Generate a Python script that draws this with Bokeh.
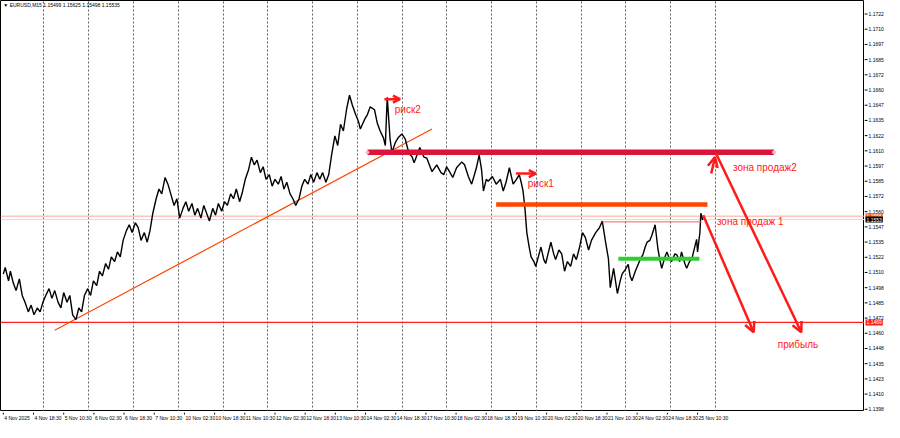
from bokeh.plotting import figure
from bokeh.models import Range1d, FixedTicker, Arrow, OpenHead, Label, ColumnDataSource
from bokeh.layouts import column, row
from bokeh.core.properties import value
from bokeh.embed import file_html
from bokeh.resources import INLINE

# ---- price series (M15 bar index, close price) ----
bars = [0, 4, 11, 15, 21, 27, 34, 40, 46, 53, 59, 65, 72, 78, 84, 90, 97, 103, 109, 116,
        122, 128, 135, 141, 147, 154, 160, 166, 172, 179, 185, 191, 198, 204, 210, 217, 223, 229, 236, 242,
        248, 254, 261, 267, 273, 280, 286, 292, 299, 305, 311, 317, 324, 330, 336, 343, 349, 355, 362, 368,
        374, 381, 387, 393, 400, 406, 412, 419, 425, 431, 437, 444, 450, 456, 463, 469, 475, 482, 488, 494,
        501, 507, 513, 520, 526, 532, 538, 545, 551, 557, 564, 570, 576, 583, 589, 595, 601, 608, 614, 620,
        627, 633, 639, 646, 652, 658, 665, 671, 677, 684, 690, 696, 703, 709, 715, 721, 728, 734, 740, 747,
        753, 757, 766, 772, 778, 787, 793, 799, 806, 810, 814, 820, 824, 831, 837, 845, 852, 860, 867, 871,
        877, 883, 892, 898, 909, 919, 928, 934, 940, 946, 953, 961, 972, 978, 986, 993, 999, 1003, 1009, 1014,
        1018, 1024, 1028, 1037, 1045, 1054, 1060, 1066, 1073, 1081, 1088, 1094, 1098, 1102, 1106, 1110, 1115, 1119, 1125, 1129,
        1136, 1140, 1146, 1150, 1157, 1161, 1167, 1171, 1178, 1184, 1190, 1196, 1203, 1209, 1215, 1222, 1228, 1234, 1241, 1247,
        1256, 1264, 1270, 1277, 1283, 1287, 1294, 1298, 1302, 1308, 1312, 1319, 1325, 1329, 1333, 1340, 1346, 1352, 1356, 1361,
        1365, 1371, 1375, 1382, 1388, 1392, 1396, 1403, 1407, 1413, 1417, 1424, 1428, 1434, 1438, 1445, 1449, 1455, 1460, 1466,
        1470, 1472, 1477, 1479, 1483]
prices = [1.15086, 1.15142, 1.15031, 1.15110, 1.15015, 1.14951, 1.15047, 1.14911, 1.14856, 1.14776,
          1.14832, 1.14752, 1.14808, 1.14776, 1.14856, 1.14911, 1.14967, 1.14887, 1.14951, 1.14856,
          1.14808, 1.14935, 1.14856, 1.14911, 1.14752, 1.14712, 1.14808, 1.14776, 1.14911, 1.14967,
          1.14911, 1.15031, 1.14991, 1.15110, 1.15071, 1.15174, 1.15126, 1.15229, 1.15190, 1.15269,
          1.15229, 1.15364, 1.15444, 1.15492, 1.15428, 1.15508, 1.15468, 1.15364, 1.15428, 1.15349,
          1.15444, 1.15587, 1.15706, 1.15786, 1.15746, 1.15881, 1.15826, 1.15746, 1.15651, 1.15706,
          1.15547, 1.15627, 1.15682, 1.15603, 1.15667, 1.15571, 1.15627, 1.15547, 1.15651, 1.15587,
          1.15523, 1.15627, 1.15571, 1.15667, 1.15603, 1.15682, 1.15651, 1.15746, 1.15706, 1.15786,
          1.15682, 1.15762, 1.15866, 1.15945, 1.16048, 1.15985, 1.16024, 1.15921, 1.15969, 1.15866,
          1.15905, 1.15810, 1.15866, 1.15826, 1.15889, 1.15786, 1.15842, 1.15746, 1.15706, 1.15651,
          1.15706, 1.15810, 1.15866, 1.15826, 1.15905, 1.15842, 1.15921, 1.15866, 1.15921, 1.15842,
          1.15905, 1.16064, 1.16223, 1.16144, 1.16318, 1.16263, 1.16446, 1.16557, 1.16477, 1.16398,
          1.16342, 1.16279, 1.16358, 1.16398, 1.16462, 1.16438, 1.16326, 1.16263, 1.16207, 1.16144,
          1.16541, 1.16199, 1.16088, 1.16167, 1.16207, 1.16239, 1.16199, 1.16080, 1.16048, 1.16001,
          1.16064, 1.16128, 1.16048, 1.16040, 1.15929, 1.15985, 1.15921, 1.15905, 1.15969, 1.15929,
          1.15881, 1.15961, 1.16009, 1.15985, 1.15889, 1.15826, 1.15905, 1.15961, 1.16064, 1.15945,
          1.15770, 1.15866, 1.15850, 1.15889, 1.15826, 1.15866, 1.15770, 1.15842, 1.15961, 1.15826,
          1.15866, 1.15905, 1.15842, 1.15770, 1.15627, 1.15428, 1.15309, 1.15229, 1.15190, 1.15150,
          1.15253, 1.15309, 1.15206, 1.15174, 1.15285, 1.15349, 1.15253, 1.15206, 1.15285, 1.15253,
          1.15110, 1.15190, 1.15150, 1.15253, 1.15206, 1.15309, 1.15428, 1.15388, 1.15285, 1.15364,
          1.15428, 1.15468, 1.15523, 1.15349, 1.15213, 1.14975, 1.15134, 1.15031, 1.14927, 1.15031,
          1.15086, 1.15126, 1.15166, 1.15071, 1.15031, 1.15110, 1.15166, 1.15221, 1.15245, 1.15309,
          1.15349, 1.15364, 1.15404, 1.15492, 1.15293, 1.15206, 1.15134, 1.15229, 1.15269, 1.15206,
          1.15190, 1.15253, 1.15245, 1.15190, 1.15269, 1.15174, 1.15134, 1.15190, 1.15213, 1.15309,
          1.15372, 1.15269, 1.15428, 1.15587, 1.15531]

# ---- axes ----
x_tick_bars = [0, 64, 128, 192, 256, 320, 384, 448, 512, 576, 640, 704, 768, 832, 896, 960,
               1024, 1088, 1152, 1216, 1280, 1344, 1408, 1472]
x_tick_labels = ["4 Nov 2025", "4 Nov 18:30", "5 Nov 10:30", "6 Nov 02:30", "6 Nov 18:30",
                 "7 Nov 10:30", "10 Nov 02:30", "10 Nov 18:30", "11 Nov 10:30", "12 Nov 02:30",
                 "12 Nov 18:30", "13 Nov 10:30", "14 Nov 02:30", "14 Nov 18:30", "17 Nov 10:30",
                 "18 Nov 02:30", "18 Nov 18:30", "19 Nov 10:30", "20 Nov 02:30", "20 Nov 18:30",
                 "21 Nov 10:30", "24 Nov 02:30", "24 Nov 18:30", "25 Nov 10:30"]
grid_bars = [86, 181, 276, 371, 466, 561, 656, 751, 846, 940, 1035, 1130, 1225, 1320, 1415, 1510]
y_tick_values = [1.13975, 1.14100, 1.14225, 1.14350, 1.14475, 1.14600, 1.14725, 1.14850, 1.14975,
                 1.15100, 1.15225, 1.15350, 1.15475, 1.15600, 1.15725, 1.15850, 1.15975, 1.16100,
                 1.16225, 1.16350, 1.16475, 1.16600, 1.16725, 1.16850, 1.16975, 1.17100, 1.17225]
y_tick_labels = ["1.1398", "1.1410", "1.1423", "1.1435", "1.1448", "1.1460", "1.1472", "1.1485", "1.1498",
                 "1.1510", "1.1522", "1.1535", "1.1547", "1.1560", "1.1572", "1.1585", "1.1597", "1.1610",
                 "1.1622", "1.1635", "1.1647", "1.1660", "1.1672", "1.1685", "1.1697", "1.1710", "1.1722"]

# ---- drawn levels / objects ----
trend_x = [109, 909]
trend_y = [1.14625, 1.16279]
zone2_x = [772, 1634]
zone2_level = 1.16088
zone1_x = [1045, 1493]
zone1_level = 1.15659
thin_x = [1270, 1480]
thin_level = 1.15516
green_x = [1304, 1476]
green_level = 1.15213
profit_level = 1.14689
ask_level = 1.15563
bid_level = 1.15535

arrow_x0 = [1484, 1511, 1501]
arrow_y0 = [1.15571, 1.16080, 1.15913]
arrow_x1 = [1591, 1692, 1509]
arrow_y1 = [1.14609, 1.14609, 1.16048]
risk_x0 = [808, 1087]
risk_x1 = [841, 1129]
risk_y = [1.16525, 1.15913]

note_texts = ["риск2", "риск1", "зона продаж2", "зона продаж 1", "прибыль"]
note_x = [830, 1112, 1547, 1513, 1642]
note_y = [1.16438, 1.15834, 1.15961, 1.15516, 1.14506]

tag_texts = ["1.1556", "1.1553", "1.1469"]
tag_levels = [1.15563, 1.15535, 1.14689]
tag_colors = ["#ff5a1f", "#000000", "#ff1a1a"]

title_text = "\u25bc  EURUSD,M15  1.15499 1.15625 1.15498 1.15535"

X0, X1 = -6, 1826
Y0, Y1 = 1.13957, 1.17336
FW, FH = 864, 411      # main frame
RW, BH = 20, 11        # right price scale width, bottom time scale height

common = dict(output_backend="svg", toolbar_location=None,
              min_border_left=0, min_border_top=0, min_border_right=0, min_border_bottom=0,
              x_axis_location=None, y_axis_location=None)

# ---- main chart ----
p = figure(width=FW, height=FH, x_range=Range1d(X0, X1), y_range=Range1d(Y0, Y1), **common)
p.background_fill_color = "white"
p.outline_line_color = "black"
p.outline_line_width = 1
p.ygrid.visible = False
p.xgrid.ticker = FixedTicker(ticks=grid_bars)
p.xgrid.grid_line_color = "#606060"
p.xgrid.grid_line_dash = "2 2"
p.xgrid.grid_line_width = 1

p.line([X0, X1], [bid_level, bid_level], color="#dcdcdc", line_width=1)
p.line([X0, X1], [ask_level, ask_level], color="#ffa98f", line_width=1)
p.line([X0, X1], [profit_level, profit_level], color="#ff2020", line_width=1.2)

p.line(trend_x, trend_y, color="#ff4500", line_width=1.2)
p.line(bars, prices, color="black", line_width=1.4)

p.line(zone2_x, [zone2_level] * 2, color="#dc143c", line_width=5.5)
p.line(zone1_x, [zone1_level] * 2, color="#ff4500", line_width=4.5)
p.line(thin_x, [thin_level] * 2, color="#ff5a5a", line_width=1)
p.line(green_x, [green_level] * 2, color="#32cd32", line_width=4)
p.scatter(zone2_x, [zone2_level] * 2, size=3, color="#ffb6c1")

asrc = ColumnDataSource(dict(x0=arrow_x0, y0=arrow_y0, x1=arrow_x1, y1=arrow_y1))
p.add_layout(Arrow(source=asrc, x_start="x0", y_start="y0", x_end="x1", y_end="y1",
                   line_color="#ff1a1a", line_width=2.5,
                   end=OpenHead(size=10, line_color="#ff1a1a", line_width=2.5)))
rsrc = ColumnDataSource(dict(x0=risk_x0, x1=risk_x1, y=risk_y))
p.add_layout(Arrow(source=rsrc, x_start="x0", y_start="y", x_end="x1", y_end="y",
                   line_color="#ff1a1a", line_width=2.5,
                   end=OpenHead(size=7, line_color="#ff1a1a", line_width=2.5)))

p.text(x=note_x, y=note_y, text=note_texts, text_color="#ff2020",
       text_font=value("Liberation Sans"), text_font_size="10px",
       text_align="left", text_baseline="middle")
p.text(x=[0], y=[1.17300], text=[title_text], text_color="black",
       text_font=value("Liberation Sans"), text_font_size="5px",
       text_align="left", text_baseline="middle")

# ---- right price scale (shares the price range) ----
pr = figure(width=RW, height=FH, x_range=Range1d(0, RW), y_range=p.y_range, **common)
pr.outline_line_color = None
pr.xgrid.visible = False
pr.ygrid.visible = False
pr.segment(x0=[0] * len(y_tick_values), x1=[3] * len(y_tick_values),
           y0=y_tick_values, y1=y_tick_values, line_color="black", line_width=1)
pr.text(x=[4] * len(y_tick_values), y=y_tick_values, text=y_tick_labels, text_color="black",
        text_font=value("Liberation Sans"), text_font_size="5px",
        text_align="left", text_baseline="middle")
for t, lv, c in zip(tag_texts, tag_levels, tag_colors):
    pr.add_layout(Label(x=1, y=lv, text=t, text_color="white", text_font_size="5px",
                        text_font="Liberation Sans", text_baseline="middle",
                        background_fill_color=c, padding=1))

# ---- bottom time scale (shares the bar range) ----
pb = figure(width=FW, height=BH, x_range=p.x_range, y_range=Range1d(0, BH), **common)
pb.outline_line_color = None
pb.xgrid.visible = False
pb.ygrid.visible = False
pb.segment(x0=x_tick_bars, x1=x_tick_bars, y0=[BH] * len(x_tick_bars), y1=[BH - 2] * len(x_tick_bars),
           line_color="black", line_width=1)
pb.text(x=x_tick_bars, y=[BH / 2] * len(x_tick_bars), text=x_tick_labels, text_color="black",
        text_font=value("Liberation Sans"), text_font_size="5px",
        text_align="left", text_baseline="middle", x_offset=1)

layout = column(row(p, pr, spacing=0), pb, spacing=0)
open("out.html", "w").write(file_html(layout, INLINE))
